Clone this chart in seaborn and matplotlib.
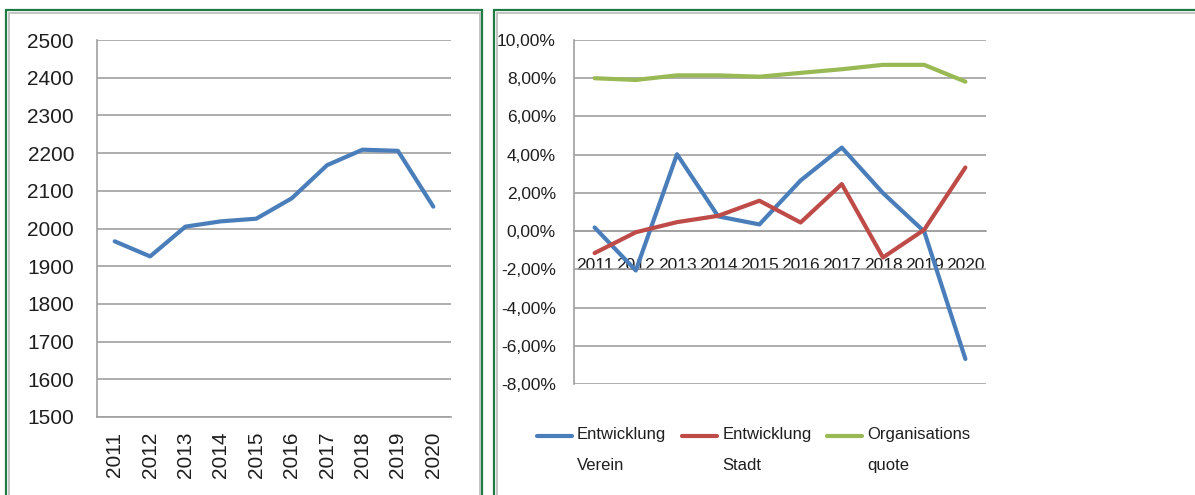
import pandas as pd
import matplotlib
matplotlib.use("Agg")
import matplotlib.pyplot as plt
import seaborn as sns
from matplotlib import font_manager
from matplotlib.legend_handler import HandlerLine2D
from matplotlib.patches import Rectangle
from matplotlib.ticker import FuncFormatter, MultipleLocator, FixedLocator

# Daten
jahre = ["2011", "2012", "2013", "2014", "2015", "2016", "2017", "2018", "2019", "2020"]
mitglieder = [1966, 1926, 2005, 2019, 2026, 2080, 2168, 2209, 2206, 2058]
entw_verein = [0.19, -2.06, 4.02, 0.77, 0.35, 2.65, 4.37, 1.99, -0.02, -6.69]
entw_stadt = [-1.15, -0.06, 0.47, 0.80, 1.59, 0.45, 2.46, -1.38, 0.07, 3.33]
org_quote = [8.00, 7.91, 8.15, 8.15, 8.08, 8.28, 8.47, 8.70, 8.70, 7.82]
serien = ["Entwicklung\nVerein", "Entwicklung\nStadt", "Organisations\nquote"]
farben = ["#4A7EBB", "#BE4B48", "#98B954"]

sns.set_style("white")
names = {f.name for f in font_manager.fontManager.ttflist}
schmal = "Liberation Sans Narrow" if "Liberation Sans Narrow" in names else "Liberation Sans"
gr_rechts = 13.5 if schmal == "Liberation Sans Narrow" else 12.5
gr_legende = 13.5 if schmal == "Liberation Sans Narrow" else 12
plt.rcParams["font.family"] = ["Liberation Sans", "DejaVu Sans"]

grid_c = "#A0A0A0"
text_c = "#1E1E1E"
W, H = 1195, 495


def box(x0, y0, x1, y1):
    return [x0 / W, 1 - y1 / H, (x1 - x0) / W, (y1 - y0) / H]


fig = plt.figure(figsize=(W / 100, H / 100), dpi=100)

# Rahmen der beiden Diagramme
for x0, x1 in [(6, 482), (494, 1260)]:
    fig.patches.append(Rectangle((x0 / W, -0.1), (x1 - x0) / W, 1.1 - 10 / H,
                                 transform=fig.transFigure, fill=False,
                                 edgecolor="#1F7A45", lw=1.6))
    fig.patches.append(Rectangle(((x0 + 2.5) / W, -0.1), (x1 - x0 - 5) / W, 1.1 - 12.5 / H,
                                 transform=fig.transFigure, fill=False,
                                 edgecolor="#C4C4C4", lw=1.4))


def achsen_stil(ax, tick_len):
    ax.set_xlim(-0.5, 9.5)
    ax.yaxis.grid(True, color=grid_c, lw=1.2)
    ax.xaxis.grid(False)
    for s in ["top", "right"]:
        ax.spines[s].set_visible(False)
    for s in ["left", "bottom"]:
        ax.spines[s].set_color(grid_c)
        ax.spines[s].set_linewidth(1.2)
    ax.xaxis.set_minor_locator(FixedLocator([i - 0.5 for i in range(11)]))
    ax.tick_params(axis="x", which="major", length=0)
    ax.tick_params(axis="x", which="minor", length=tick_len, width=1.2, color=grid_c, direction="out")
    ax.tick_params(axis="y", which="major", length=tick_len, width=1.2, color=grid_c, direction="out")
    ax.set_xlabel("")
    ax.set_ylabel("")


# Linkes Diagramm: Mitglieder
ax1 = fig.add_axes(box(97, 40, 451, 417))
sns.lineplot(x=jahre, y=mitglieder, ax=ax1, color=farben[0], linewidth=3.0, sort=False)
ax1.set_ylim(1500, 2500)
ax1.yaxis.set_major_locator(MultipleLocator(100))
achsen_stil(ax1, 5.5)
ax1.tick_params(axis="y", labelsize=15, pad=11, labelcolor=text_c)
ax1.tick_params(axis="x", labelsize=15, pad=10.5, labelrotation=90, labelcolor=text_c)

# Rechtes Diagramm: Entwicklung
ax2 = fig.add_axes(box(574, 40, 986, 384))
df = pd.DataFrame({"Jahr": jahre * 3,
                   "Wert": entw_verein + entw_stadt + org_quote,
                   "Serie": [s for s in serien for _ in jahre]})
sns.lineplot(data=df, x="Jahr", y="Wert", hue="Serie", palette=farben,
             linewidth=3.0, sort=False, ax=ax2, legend=False, zorder=3)
ax2.set_ylim(-8, 10)
ax2.yaxis.set_major_locator(MultipleLocator(2))
ax2.yaxis.set_major_formatter(FuncFormatter(lambda v, p: f"{v:.2f}%".replace(".", ",")))
achsen_stil(ax2, 4.5)
ax2.spines["bottom"].set_position(("data", 0))
for lab in ax2.get_yticklabels() + ax2.get_xticklabels():
    lab.set_family([schmal, "DejaVu Sans"])
ax2.tick_params(axis="y", labelsize=gr_rechts, pad=8.5, labelcolor=text_c)
ax2.tick_params(axis="x", which="major", labelsize=gr_rechts, pad=19, labelcolor=text_c)

ZEILE = 2.35


class ErsteZeile(HandlerLine2D):
    # Legendenlinie auf Höhe der ersten Textzeile
    def create_artists(self, legend, orig_handle, xdescent, ydescent, width, height, fontsize, trans):
        shift = 0.5 * ZEILE * 0.73 * fontsize
        return super().create_artists(legend, orig_handle, xdescent, ydescent - 2 * shift,
                                      width, height, fontsize, trans)


linien = ax2.get_lines()[:3]
leg = ax2.legend(linien, serien, loc="upper left", bbox_to_anchor=(-0.09, -0.124),
                 ncol=3, frameon=False, borderaxespad=0, borderpad=0,
                 handlelength=2.1, handletextpad=0.3, columnspacing=0.96,
                 prop={"family": [schmal, "DejaVu Sans"], "size": gr_legende},
                 handler_map={l: ErsteZeile() for l in linien})
for t in leg.get_texts():
    t.set_linespacing(ZEILE)
    t.set_color(text_c)

fig.savefig("out.png", dpi=100)
